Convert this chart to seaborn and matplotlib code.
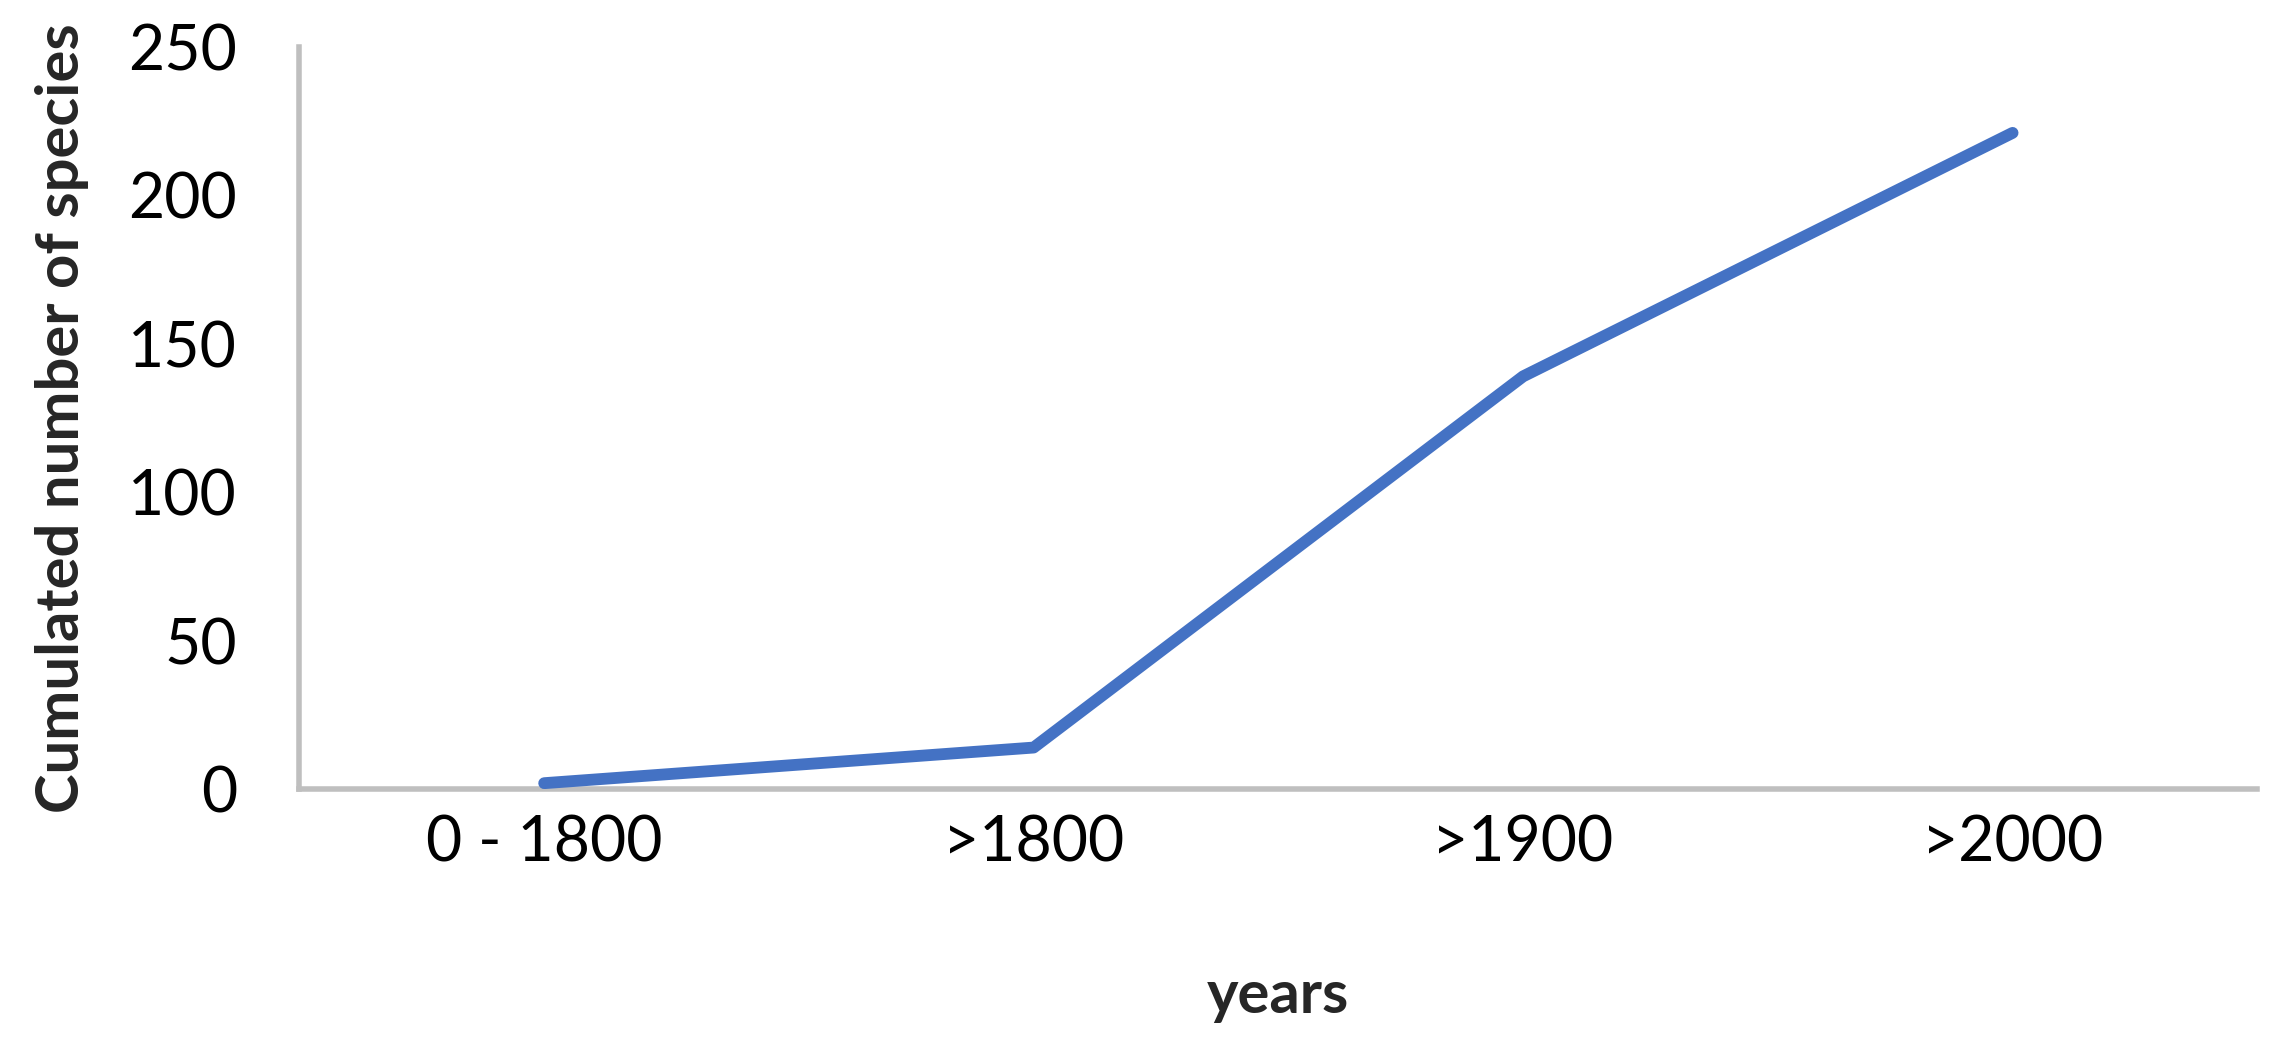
import pandas as pd
import seaborn as sns
import matplotlib.pyplot as plt

periods = ["0 - 1800", ">1800", ">1900", ">2000"]
species = [2, 14, 139, 221]


def main():
    sns.set_style("white")
    plt.rcParams['font.family'] = ['Lato', 'DejaVu Sans']

    df = pd.DataFrame({"years": periods, "species": species})

    fig = plt.figure(figsize=(22.91, 10.39), dpi=100)
    ax = fig.add_axes([0.1307, 0.2405, 0.8546, 0.7145])

    sns.lineplot(data=df, x="years", y="species", sort=False, ax=ax,
                 color="#4472C4", linewidth=8.5, solid_capstyle="round")

    ax.set_xlim(-0.5, 3.5)
    ax.set_ylim(0, 250)
    ax.set_yticks(range(0, 251, 50))

    for side in ["top", "right"]:
        ax.spines[side].set_visible(False)
    for side in ["left", "bottom"]:
        ax.spines[side].set_color("#BFBFBF")
        ax.spines[side].set_linewidth(4)
        ax.spines[side].set_zorder(1)

    ax.tick_params(axis="both", length=0, labelsize=45, colors="black")
    ax.tick_params(axis="y", pad=45)
    ax.tick_params(axis="x", pad=18)

    ax.set_xlabel("years", fontsize=43, fontweight="bold", labelpad=70)
    ax.set_ylabel("Cumulated number of species", fontsize=43,
                  fontweight="bold", labelpad=28)

    fig.savefig("out.png", dpi=100)
    plt.close(fig)


if __name__ == "__main__":
    main()
